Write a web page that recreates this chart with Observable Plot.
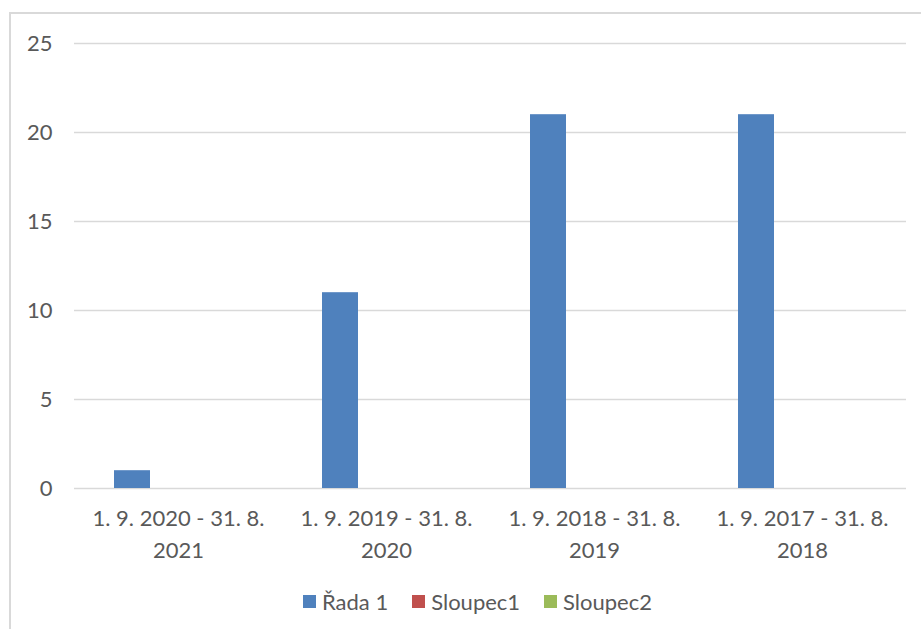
<!DOCTYPE html>
<html>
<head>
<meta charset="utf-8">
<script src="https://cdn.jsdelivr.net/npm/d3@7"></script>
<script src="https://cdn.jsdelivr.net/npm/@observablehq/plot@0.6"></script>
<style>
  html, body { margin: 0; padding: 0; background: #fff; overflow: hidden; }
  body { width: 921px; height: 629px; position: relative; font-family: Lato, "Open Sans", sans-serif; }
  #frame { position: absolute; left: 9px; top: 12px; width: 1000px; height: 700px; border: 2px solid #d9d9d9; box-sizing: border-box; }
  #chart { position: absolute; left: 0; top: 0; }
  #legend { position: absolute; top: 588px; left: 303px; display: flex; align-items: center; font-size: 22px; color: #595959; white-space: nowrap; }
  #legend .item { display: flex; align-items: center; margin-right: 24px; }
  #legend .sw { width: 13px; height: 13px; margin-right: 6px; }
</style>
</head>
<body>
<div id="frame"></div>
<div id="chart"></div>
<div id="legend"></div>
<script>
const categories = [
  "1. 9. 2020 - 31. 8. 2021",
  "1. 9. 2019 - 31. 8. 2020",
  "1. 9. 2018 - 31. 8. 2019",
  "1. 9. 2017 - 31. 8. 2018"
];
const seriesNames = ["Řada 1", "Sloupec1", "Sloupec2"];
const seriesColors = ["#4F81BD", "#C0504D", "#9BBB59"];
const rada1 = [1, 11, 21, 21];
const sloupec1 = [null, null, null, null];
const sloupec2 = [null, null, null, null];
const yTicks = [0, 5, 10, 15, 20, 25];

const seriesValues = [rada1, sloupec1, sloupec2];
const data = [];
seriesNames.forEach((s, si) => {
  categories.forEach((c, ci) => {
    const v = seriesValues[si][ci];
    if (v != null) data.push({category: c, series: s, value: v});
  });
});

const plot = Plot.plot({
  width: 921,
  height: 580,
  marginLeft: 74,
  marginRight: 15,
  marginTop: 43,
  marginBottom: 92,
  style: {fontFamily: "Lato, 'Open Sans', sans-serif", fontSize: "22px", color: "#595959", background: "transparent"},
  fx: {domain: categories, padding: 0, label: null},
  x: {domain: seriesNames, paddingInner: 0.21, paddingOuter: 0.83, axis: null},
  y: {domain: [0, 25], ticks: yTicks, label: null},
  color: {domain: seriesNames, range: seriesColors},
  marks: [
    Plot.gridY(yTicks, {stroke: "#d9d9d9", strokeOpacity: 1, strokeWidth: 1.5}),
    Plot.axisY(yTicks, {tickSize: 0, tickPadding: 22, fill: "#595959", fontSize: 22, label: null}),
    Plot.axisFx({
      anchor: "bottom", tickSize: 0, tickPadding: 15, lineHeight: 1.45, fill: "#595959", fontSize: 22, label: null,
      tickFormat: d => d.replace(/ (\d{4})$/, "\n$1")
    }),
    Plot.barY(data, {fx: "category", x: "series", y: "value", fill: "series"})
  ]
});
document.getElementById("chart").appendChild(plot);

const legend = document.getElementById("legend");
seriesNames.forEach((s, i) => {
  const item = document.createElement("div");
  item.className = "item";
  const sw = document.createElement("div");
  sw.className = "sw";
  sw.style.background = seriesColors[i];
  const t = document.createElement("span");
  t.textContent = s;
  item.appendChild(sw);
  item.appendChild(t);
  legend.appendChild(item);
});
</script>
</body>
</html>
